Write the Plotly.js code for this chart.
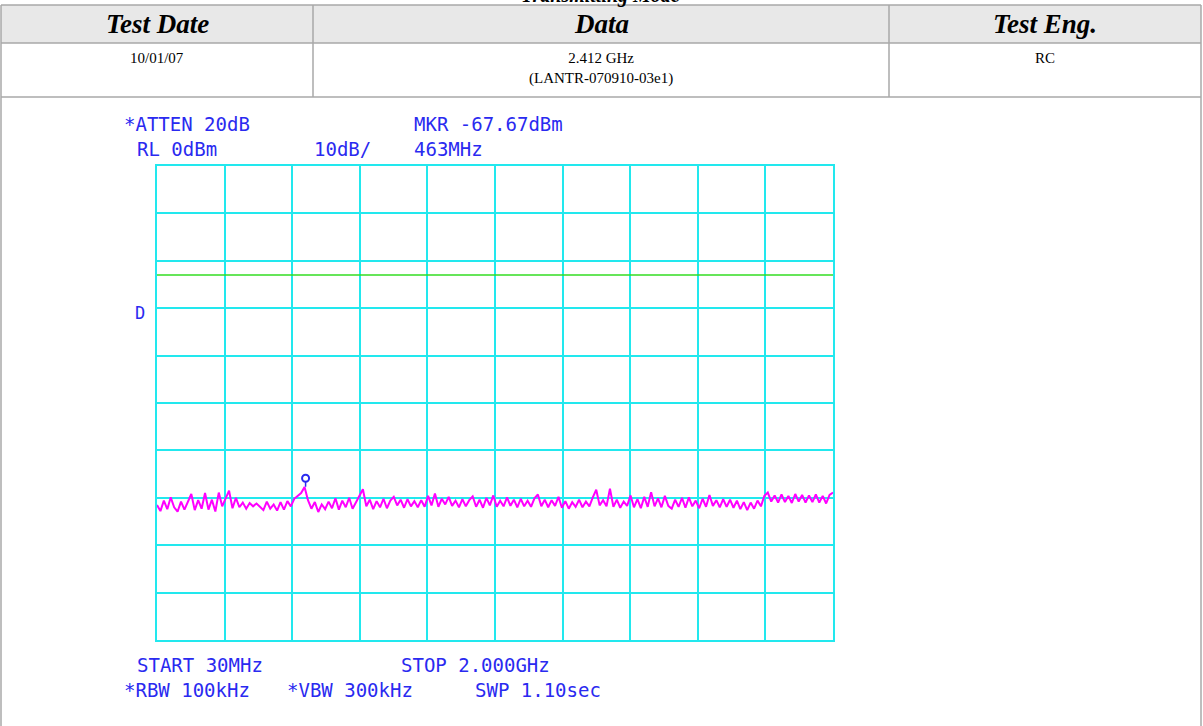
<!DOCTYPE html>
<html>
<head>
<meta charset="utf-8">
<script src="https://cdn.plot.ly/plotly-3.0.1.min.js"></script>
<style>
html,body{margin:0;padding:0;background:#fff;}
#chart{width:1203px;height:726px;}
</style>
</head>
<body>
<div id="chart"></div>
<script>
// ---- data ----
const startMHz = 30;
const stepMHz = 10;
const stopMHz = 2000;
const refLevel = 0;
const bottomLevel = -100;
const displayLine = -23;
const markerFreq = 463;
const markerLevel = -67.67;
const levels = [
 -71.5,-72.8,-70.6,-72.4,-69.9,-72.0,-72.9,-70.8,-72.5,-71.0,
 -69.2,-72.6,-70.5,-72.3,-69.0,-72.5,-70.4,-72.9,-68.9,-71.8,
 -70.3,-68.5,-72.2,-70.0,-72.0,-71.0,-72.3,-71.1,-71.8,-71.2,
 -71.9,-72.6,-70.8,-72.3,-71.4,-72.7,-70.9,-72.5,-70.7,-71.8,
 -70.2,-69.6,-69.0,-67.7,-70.5,-72.3,-70.9,-73.0,-71.4,-72.4,
 -70.8,-72.2,-70.1,-72.5,-70.6,-72.0,-70.0,-72.3,-70.9,-69.5,
 -68.2,-71.8,-70.4,-72.4,-70.7,-72.0,-70.2,-72.2,-70.6,-69.8,
 -71.6,-70.4,-72.1,-70.3,-71.8,-70.7,-72.0,-70.5,-71.9,-69.6,
 -71.6,-69.1,-71.9,-70.2,-71.4,-69.8,-71.7,-70.6,-72.0,-70.3,
 -71.8,-70.5,-69.7,-71.9,-70.4,-72.1,-70.0,-71.6,-69.5,-71.9,
 -70.6,-71.8,-69.9,-71.7,-70.4,-72.0,-70.2,-71.8,-70.6,-71.9,
 -70.1,-69.3,-71.8,-70.4,-72.0,-70.5,-71.7,-69.8,-72.1,-70.7,
 -72.3,-70.9,-71.9,-70.4,-72.0,-70.8,-71.8,-69.9,-68.3,-71.6,
 -70.5,-71.8,-68.1,-71.9,-70.4,-72.1,-70.8,-71.7,-69.5,-72.0,
 -70.3,-72.2,-69.8,-71.9,-68.8,-71.8,-70.1,-72.0,-69.6,-71.7,
 -72.3,-70.4,-71.9,-70.0,-72.1,-69.9,-71.8,-70.6,-72.2,-70.2,
 -71.9,-69.4,-71.7,-70.5,-72.0,-70.3,-71.9,-70.4,-72.1,-70.6,
 -72.4,-70.9,-72.6,-71.0,-72.3,-70.6,-71.8,-69.6,-68.9,-70.8,
 -69.5,-71.0,-69.3,-70.9,-69.6,-71.1,-69.2,-70.8,-69.4,-71.0,
 -69.5,-70.9,-69.3,-71.0,-69.6,-71.2,-69.4,-68.9
];
const headerLabels = ["Test Date", "Data", "Test Eng."];
const headerValues = ["10/01/07", "2.412 GHz<br>(LANTR-070910-03e1)", "RC"];
const pageTitle = "Transmitting Mode";
const topLeft = ["*ATTEN 20dB", "RL 0dBm"];
const topMid = "10dB/";
const topRight = ["MKR -67.67dBm", "463MHz"];
const bottomLeft = ["START 30MHz", "*RBW 100kHz"];
const bottomMid = "*VBW 300kHz";
const bottomRight = ["STOP 2.000GHz", "SWP 1.10sec"];

// ---- layout helpers (pixel -> paper) ----
const W = 1203, H = 726;
const L = 157, R = 833, T = 166, B = 640;
const px = x => (x - L) / (R - L);
const py = y => (B - y) / (B - T);

const blue = '#2a2af0';
const cyan = '#22e8ee';
const mono = 'DejaVu Sans Mono, monospace';
const serif = 'Liberation Serif, Times New Roman, serif';

const trace = {
  type: 'scatter', mode: 'lines',
  x0: startMHz, dx: stepMHz, y: levels,
  line: {color: '#ff00ff', width: 2, shape: 'linear'},
  hoverinfo: 'skip', showlegend: false
};

const shapes = [];
// display line
shapes.push({type: 'line', xref: 'paper', yref: 'y', x0: 0, x1: 1, y0: displayLine, y1: displayLine,
  line: {color: '#33dd22', width: 1.6}});
// marker: stem + circle anchored to the marker point
shapes.push({type: 'line', xref: 'x', yref: 'y', xsizemode: 'pixel', ysizemode: 'pixel',
  xanchor: markerFreq, yanchor: markerLevel, x0: 0, x1: 0, y0: 0, y1: 5,
  line: {color: blue, width: 1.5}});
shapes.push({type: 'circle', xref: 'x', yref: 'y', xsizemode: 'pixel', ysizemode: 'pixel',
  xanchor: markerFreq, yanchor: markerLevel, x0: -3.5, x1: 3.5, y0: 5, y1: 12,
  line: {color: blue, width: 2}, fillcolor: 'rgba(0,0,0,0)'});

// header table
const border = '#a8a8a8';
const colX = [1, 313, 889, 1201];
const rowY = [5, 43, 97];
shapes.push({type: 'rect', xref: 'paper', yref: 'paper', layer: 'below',
  x0: px(colX[0]), x1: px(colX[3]), y0: py(rowY[0]), y1: py(rowY[1]),
  fillcolor: '#e8e8e8', line: {width: 0}});
rowY.forEach(y => shapes.push({type: 'line', xref: 'paper', yref: 'paper',
  x0: px(colX[0]), x1: px(colX[3]), y0: py(y), y1: py(y), line: {color: border, width: 1.5}}));
[colX[1], colX[2]].forEach(x => shapes.push({type: 'line', xref: 'paper', yref: 'paper',
  x0: px(x), x1: px(x), y0: py(rowY[0]), y1: py(rowY[2]), line: {color: border, width: 1.5}}));
[colX[0], colX[3]].forEach(x => shapes.push({type: 'line', xref: 'paper', yref: 'paper',
  x0: px(x), x1: px(x), y0: py(rowY[0]), y1: py(H + 5), line: {color: border, width: 1.5}}));

const annotations = [];
function txt(text, x, y, opts) {
  annotations.push(Object.assign({
    text: text, xref: 'paper', yref: 'paper', x: px(x), y: py(y),
    xanchor: 'left', yanchor: 'middle', showarrow: false,
    font: {family: mono, size: 19, color: blue}
  }, opts || {}));
}
// page title (cut off at the top edge)
txt('<b><i>' + pageTitle + '</i></b>', 600, -4, {xanchor: 'center',
  font: {family: serif, size: 20, color: '#000'}});
for (let i = 0; i < 3; i++) {
  const cx = (colX[i] + colX[i + 1]) / 2;
  txt('<b><i>' + headerLabels[i] + '</i></b>', cx, 24, {xanchor: 'center',
    font: {family: serif, size: 27, color: '#000'}});
  txt(headerValues[i], cx, 48, {xanchor: 'center', yanchor: 'top',
    font: {family: serif, size: 15, color: '#000'}});
}
// analyzer annotations
txt(topLeft[0], 122, 124);
txt(topLeft[1], 135, 149);
txt(topMid, 312, 149);
txt(topRight[0], 412, 124);
txt(topRight[1], 412, 149);
txt('D', 133, 313, {font: {family: mono, size: 17, color: blue}});
txt(bottomLeft[0], 135, 665);
txt(bottomRight[0], 399, 665);
txt(bottomLeft[1], 122, 690);
txt(bottomMid, 285, 690);
txt(bottomRight[1], 473, 690);

const layout = {
  width: W, height: H,
  margin: {l: L, r: W - R, t: T, b: H - B, pad: 0},
  paper_bgcolor: '#fff', plot_bgcolor: '#fff',
  showlegend: false,
  xaxis: {range: [startMHz, stopMHz], tick0: startMHz, dtick: (stopMHz - startMHz) / 10,
    showgrid: true, gridcolor: cyan, gridwidth: 2, zeroline: false,
    showline: true, mirror: true, linecolor: cyan, linewidth: 2,
    showticklabels: false, ticks: '', fixedrange: true},
  yaxis: {range: [bottomLevel, refLevel], tick0: refLevel, dtick: 10,
    showgrid: true, gridcolor: cyan, gridwidth: 2, zeroline: false,
    showline: true, mirror: true, linecolor: cyan, linewidth: 2,
    showticklabels: false, ticks: '', fixedrange: true},
  shapes: shapes,
  annotations: annotations
};

Plotly.newPlot('chart', [trace], layout, {staticPlot: true, displayModeBar: false});
</script>
</body>
</html>
